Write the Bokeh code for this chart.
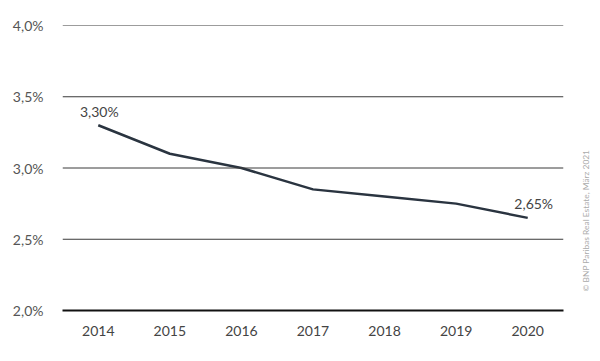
import math
from bokeh.plotting import figure
from bokeh.layouts import row
from bokeh.models import FixedTicker, Label, ColumnDataSource, Span
from bokeh.embed import file_html
from bokeh.resources import INLINE

years = ["2014", "2015", "2016", "2017", "2018", "2019", "2020"]
values = [3.30, 3.10, 3.00, 2.85, 2.80, 2.75, 2.65]
y_ticks = [2.0, 2.5, 3.0, 3.5, 4.0]
y_labels = ["2,0%", "2,5%", "3,0%", "3,5%", "4,0%"]
annot_years = ["2014", "2020"]
annot_values = [3.30, 2.65]
annot_texts = ["3,30%", "2,65%"]
source_note = "© BNP Paribas Real Estate, März 2021"

FONT = "Lato"

p = figure(width=575, height=355, x_range=years, y_range=(2.0, 4.0),
           output_backend="svg", toolbar_location=None,
           min_border_left=62, min_border_right=12, min_border_top=25, min_border_bottom=45)
p.outline_line_color = None
p.background_fill_color = "white"

# grid lines as spans (include the top line at 4,0%)
for t in y_ticks[1:]:
    p.add_layout(Span(location=t, dimension="width", line_color="#3a3a3a", line_width=1))

p.line(years, values, line_color="#2a3440", line_width=2.5)

src = ColumnDataSource(dict(x=annot_years, y=annot_values, t=annot_texts, xo=[1, 6]))
p.text(x="x", y="y", text="t", source=src, text_font={"value": FONT}, text_font_size="14px",
       text_color="#444444", text_align="center", text_baseline="alphabetic", y_offset=-14, x_offset="xo")

# y axis
p.yaxis.ticker = FixedTicker(ticks=y_ticks)
p.yaxis.major_label_overrides = {t: l for t, l in zip(y_ticks, y_labels)}
p.yaxis.axis_line_color = None
p.yaxis.major_tick_line_color = None
p.yaxis.minor_tick_line_color = None
p.yaxis.major_label_standoff = 13
p.yaxis.major_label_text_font = FONT
p.yaxis.major_label_text_font_size = "14px"
p.yaxis.major_label_text_color = "#555555"

p.ygrid.grid_line_color = None
p.xgrid.grid_line_color = None

# x axis
p.xaxis.axis_line_color = "#111111"
p.xaxis.axis_line_width = 2
p.xaxis.major_tick_line_color = None
p.xaxis.minor_tick_line_color = None
p.xaxis.major_label_standoff = 9
p.xaxis.major_label_text_font = FONT
p.xaxis.major_label_text_font_size = "14px"
p.xaxis.major_label_text_color = "#444444"

# narrow side panel for the vertical source note
p2 = figure(width=23, height=355, x_range=(0, 1), y_range=(0, 1),
            x_axis_type=None, y_axis_type=None, output_backend="svg", toolbar_location=None,
            min_border_left=0, min_border_right=0, min_border_top=0, min_border_bottom=0)
p2.outline_line_color = None
p2.xgrid.grid_line_color = None
p2.ygrid.grid_line_color = None
note = Label(x=10, y=19, x_units="screen", y_units="screen", text=source_note,
             angle=math.pi / 2, text_font=FONT, text_font_size="8.4px",
             text_color="#aaaaaa", text_align="left", text_baseline="middle")
p2.add_layout(note)

layout = row(p, p2)
open("out.html", "w").write(file_html(layout, INLINE))
